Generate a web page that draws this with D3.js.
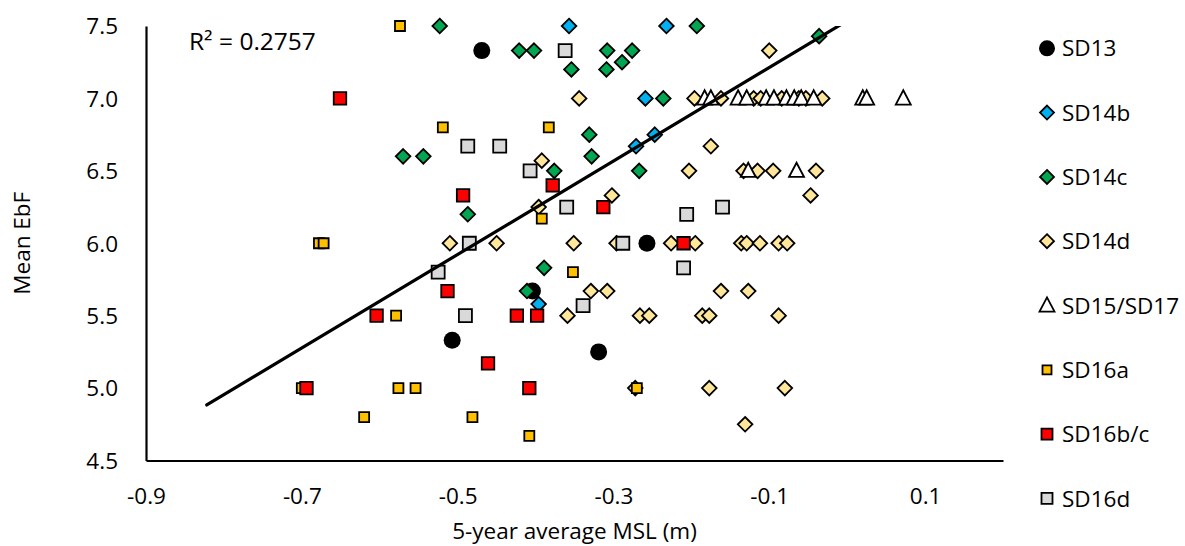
<!DOCTYPE html>
<html>
<head>
<meta charset="utf-8">
<script src="https://cdn.jsdelivr.net/npm/d3@7"></script>
<style>
  html, body { margin: 0; padding: 0; background: #fff; }
  svg { display: block; }
  text { font-family: "Open Sans", "Noto Sans", sans-serif; fill: #000; }
</style>
</head>
<body>
<svg id="chart" width="1185" height="546"></svg>
<script>
// ---- data: [5-year average MSL (m), mean EbF] ----
const sd13 = [[-0.469,7.33],[-0.257,6.0],[-0.404,5.67],[-0.507,5.33],[-0.319,5.25]];
const sd14b = [[-0.357,7.5],[-0.232,7.5],[-0.259,7.0],[-0.247,6.75],[-0.271,6.67],[-0.396,5.58]];
const sd14c = [[-0.523,7.5],[-0.193,7.5],[-0.421,7.33],[-0.402,7.33],[-0.308,7.33],[-0.276,7.33],
  [-0.289,7.25],[-0.354,7.2],[-0.309,7.2],[-0.036,7.43],[-0.236,7.0],[-0.331,6.75],[-0.570,6.6],
  [-0.544,6.6],[-0.328,6.6],[-0.376,6.5],[-0.267,6.5],[-0.487,6.2],[-0.389,5.83],[-0.411,5.67]];
const sd14d = [[-0.100,7.33],[-0.344,7.0],[-0.196,7.0],[-0.162,7.0],[-0.120,7.0],[-0.111,7.0],
  [-0.084,7.0],[-0.062,7.0],[-0.053,7.0],[-0.032,7.0],[-0.175,6.67],[-0.392,6.57],[-0.203,6.5],
  [-0.133,6.5],[-0.115,6.5],[-0.095,6.5],[-0.040,6.5],[-0.302,6.33],[-0.047,6.33],[-0.396,6.25],
  [-0.510,6.0],[-0.450,6.0],[-0.351,6.0],[-0.296,6.0],[-0.226,6.0],[-0.195,6.0],[-0.136,6.0],
  [-0.129,6.0],[-0.112,6.0],[-0.088,6.0],[-0.077,6.0],[-0.329,5.67],[-0.308,5.67],[-0.162,5.67],
  [-0.127,5.67],[-0.359,5.5],[-0.266,5.5],[-0.254,5.5],[-0.186,5.5],[-0.177,5.5],[-0.088,5.5],
  [-0.272,5.0],[-0.177,5.0],[-0.080,5.0],[-0.131,4.75]];
const sd15sd17 = [[-0.183,7.0],[-0.175,7.0],[-0.140,7.0],[-0.129,7.0],[-0.104,7.0],[-0.094,7.0],
  [-0.078,7.0],[-0.068,7.0],[-0.059,7.0],[-0.043,7.0],[0.020,7.0],[0.025,7.0],[0.072,7.0],
  [-0.127,6.5],[-0.065,6.5]];
const sd16a = [[-0.574,7.5],[-0.519,6.8],[-0.383,6.8],[-0.678,6.0],[-0.672,6.0],[-0.392,6.17],
  [-0.352,5.8],[-0.579,5.5],[-0.700,5.0],[-0.576,5.0],[-0.554,5.0],[-0.270,5.0],[-0.620,4.8],
  [-0.481,4.8],[-0.408,4.67]];
const sd16bc = [[-0.651,7.0],[-0.378,6.4],[-0.493,6.33],[-0.313,6.25],[-0.210,6.0],[-0.513,5.67],
  [-0.604,5.5],[-0.424,5.5],[-0.398,5.5],[-0.461,5.17],[-0.694,5.0],[-0.408,5.0]];
const sd16d = [[-0.362,7.33],[-0.487,6.67],[-0.446,6.67],[-0.407,6.5],[-0.360,6.25],[-0.206,6.2],
  [-0.160,6.25],[-0.485,6.0],[-0.288,6.0],[-0.525,5.8],[-0.210,5.83],[-0.339,5.57],[-0.490,5.5]];

const seriesNames = ["SD13","SD14b","SD14c","SD14d","SD15/SD17","SD16a","SD16b/c","SD16d"];
const seriesData = [sd13, sd14b, sd14c, sd14d, sd15sd17, sd16a, sd16bc, sd16d];

// linear trend line (all points) and its fit statistic
const trendSlope = 3.227;
const trendIntercept = 7.536;
const trendXRange = [-0.822, 0.072];
const rSquaredLabel = "R² = 0.2757";

const xDomain = [-0.9, 0.2];
const yDomain = [4.5, 7.5];
const xTickValues = [-0.9, -0.7, -0.5, -0.3, -0.1, 0.1];
const yTickValues = [4.5, 5.0, 5.5, 6.0, 6.5, 7.0, 7.5];
const xTitle = "5-year average MSL (m)";
const yTitle = "Mean EbF";

// ---- marker styles ----
const diamond = r => `M0,${-r}L${r},0L0,${r}L${-r},0Z`;
const square = s => `M${-s/2},${-s/2}h${s}v${s}h${-s}Z`;
const triangle = s => { const h = s * 0.95; return `M0,${-h/2 - 1}L${s/2},${h/2 - 1}L${-s/2},${h/2 - 1}Z`; };
const circle = r => `M${r},0A${r},${r} 0 1,1 ${-r},0A${r},${r} 0 1,1 ${r},0Z`;

const styles = [
  { path: circle(8.5),   fill: "#000000", stroke: "none" },
  { path: diamond(7.3),  fill: "#00B0F0", stroke: "#000" },
  { path: diamond(7.3),  fill: "#00A651", stroke: "#000" },
  { path: diamond(7.3),  fill: "#FFE699", stroke: "#000" },
  { path: triangle(15),  fill: "#FFFFFF", stroke: "#000" },
  { path: square(10),    fill: "#FFC000", stroke: "#000" },
  { path: square(12.5),  fill: "#FF0000", stroke: "#000" },
  { path: square(13),    fill: "#D9D9D9", stroke: "#000" }
];
const legendStyles = [
  { path: circle(8) },
  { path: diamond(7) },
  { path: diamond(7) },
  { path: diamond(7) },
  { path: triangle(15) },
  { path: square(9) },
  { path: square(11) },
  { path: square(11) }
];

// ---- layout ----
const plot = { left: 146, right: 1003, top: 26, bottom: 460.5 };
const fontSize = 22.5;
const fmt = d => d3.format(".1f")(d).replace("\u2212", "-");

const svg = d3.select("#chart");
const x = d3.scaleLinear().domain(xDomain).range([plot.left, plot.right]);
const y = d3.scaleLinear().domain(yDomain).range([plot.bottom, plot.top]);

svg.append("defs").append("clipPath").attr("id", "plotClip")
  .append("rect")
  .attr("x", plot.left).attr("y", plot.top)
  .attr("width", plot.right - plot.left).attr("height", plot.bottom - plot.top);

// axes (lines only, labels without tick marks)
const xAxis = d3.axisBottom(x).tickValues(xTickValues).tickSize(0).tickPadding(0).tickFormat(fmt);
const gx = svg.append("g").attr("transform", `translate(0,${plot.bottom})`).call(xAxis);
gx.select(".domain").attr("stroke", "#000").attr("stroke-width", 2.2);
gx.selectAll(".tick text")
  .attr("y", 43.5).attr("dy", null)
  .style("font-size", fontSize + "px").style("font-family", "'Open Sans', sans-serif");

const yAxis = d3.axisLeft(y).tickValues(yTickValues).tickSize(0).tickPadding(0).tickFormat(fmt);
const gy = svg.append("g").attr("transform", `translate(${plot.left},0)`).call(yAxis);
gy.select(".domain").attr("stroke", "#000").attr("stroke-width", 2.2);
gy.selectAll(".tick text")
  .attr("x", -28).attr("dy", "0.35em")
  .style("font-size", fontSize + "px").style("font-family", "'Open Sans', sans-serif");

// axis titles
svg.append("text")
  .attr("x", (plot.left + plot.right) / 2).attr("y", 539)
  .attr("text-anchor", "middle").style("font-size", fontSize + "px")
  .text(xTitle);
svg.append("text")
  .attr("transform", `translate(22,${(plot.top + plot.bottom) / 2}) rotate(-90)`)
  .attr("text-anchor", "middle").attr("dy", "0.35em").style("font-size", fontSize + "px")
  .text(yTitle);

// series markers, drawn in series order (markers may overhang the plot edge)
const markers = svg.append("g");
seriesData.forEach((data, i) => {
  const st = styles[i];
  markers.append("g").selectAll("path").data(data).join("path")
    .attr("d", st.path)
    .attr("transform", d => `translate(${x(d[0])},${y(d[1])})`)
    .attr("fill", st.fill)
    .attr("stroke", st.stroke)
    .attr("stroke-width", 1.8)
    .attr("stroke-linejoin", "miter");
});

// trend line, clipped to the plot area
const trendPts = trendXRange.map(v => [v, trendIntercept + trendSlope * v]);
svg.append("g").attr("clip-path", "url(#plotClip)")
  .append("path")
  .attr("d", d3.line().x(d => x(d[0])).y(d => y(d[1]))(trendPts))
  .attr("fill", "none").attr("stroke", "#000").attr("stroke-width", 3.2)
  .attr("stroke-linecap", "round");

svg.append("text")
  .attr("x", 189).attr("y", 50)
  .style("font-size", "24.5px")
  .text(rSquaredLabel);

// legend
const legend = svg.append("g");
seriesNames.forEach((name, i) => {
  const cy = 48.3 + i * 64.3;
  legend.append("path")
    .attr("d", legendStyles[i].path)
    .attr("transform", `translate(1047,${cy})`)
    .attr("fill", styles[i].fill)
    .attr("stroke", styles[i].stroke)
    .attr("stroke-width", 1.8);
  legend.append("text")
    .attr("x", 1062).attr("y", cy).attr("dy", "0.36em")
    .style("font-size", fontSize + "px")
    .text(name);
});
</script>
</body>
</html>
